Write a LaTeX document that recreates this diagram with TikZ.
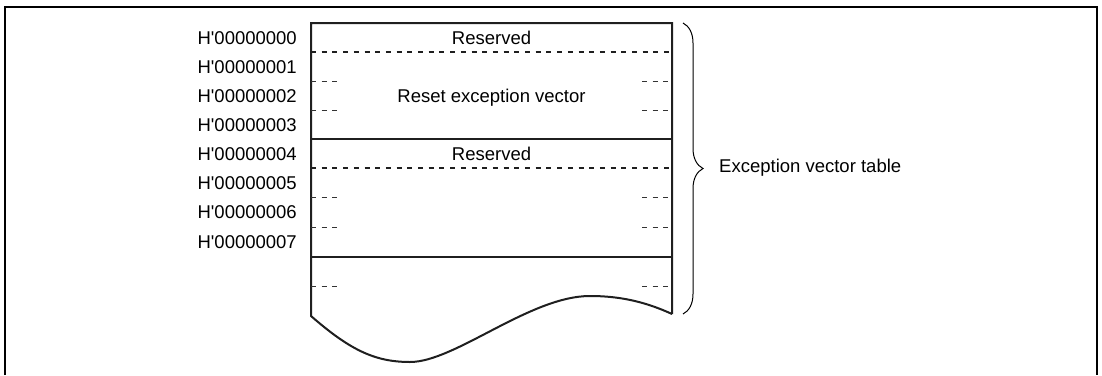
\documentclass[tikz,border=0pt]{standalone}
\usepackage{fontspec}
\setmainfont{Liberation Sans}
\usepackage{tikz}
\usetikzlibrary{decorations.pathreplacing}
\tikzset{
  lbl/.style={inner sep=0pt, text height=13.3pt, text depth=0pt, font=\fontsize{18.5}{22}\selectfont},
  addr/.style={lbl, anchor=east},
  frame/.style={line width=2.2pt},
  mem/.style={line width=2pt, draw=black!88, line join=miter},
  cut/.style={line width=2.2pt, draw=black!88, dash pattern=on 5pt off 5.7pt},
  tick/.style={line width=1pt, draw=black!80, dash pattern=on 5pt off 5.7pt}
}
\newcommand{\hx}{H\textquotesingle}

\begin{document}
\begin{tikzpicture}[x=1pt,y=-1pt]
\useasboundingbox (0,0) rectangle (1102,375);
\draw[frame] (5,375) -- (5,7) -- (1097,7) -- (1097,375);

\node[addr] (H0) at (297,37.5) {\hx00000000};
\node[addr] (H1) at (297,66.7) {\hx00000001};
\node[addr] (H2) at (297,96)   {\hx00000002};
\node[addr] (H3) at (297,125)  {\hx00000003};
\node[addr] (H4) at (297,154)  {\hx00000004};
\node[addr] (H5) at (297,183)  {\hx00000005};
\node[addr] (H6) at (297,212)  {\hx00000006};
\node[addr] (H7) at (297,241.5) {\hx00000007};

% memory block
\draw[mem] (672,314) -- (672,23) -- (311,23) -- (311,316)
  .. controls (350,350) and (375,362) .. (410,362)
  .. controls (455,362) and (530,296) .. (590,296)
  .. controls (625,296) and (650,304) .. (672,314);
\draw[mem] (311,139) -- (672,139);
\draw[mem] (311,257) -- (672,257);
\draw[cut] (311,52) -- (672,52);
\draw[cut] (311,168) -- (672,168);

\draw[tick] (311,81) -- (338,81);   \draw[tick] (642,81) -- (672,81);
\draw[tick] (311,110) -- (338,110); \draw[tick] (642,110) -- (672,110);
\draw[tick] (311,197) -- (338,197); \draw[tick] (642,197) -- (672,197);
\draw[tick] (311,227) -- (338,227); \draw[tick] (642,227) -- (672,227);
\draw[tick] (311,286) -- (338,286); \draw[tick] (642,286) -- (672,286);

\node[lbl] (res1) at (491.5,37.5) {Reserved};
\node[lbl] (reset) at (491.5,96) {Reset exception vector};
\node[lbl] (res2) at (491.5,154) {Reserved};

% brace
\coordinate (tbl-top) at (683,23);
\coordinate (tbl-bot) at (683,314);
\draw[line width=1pt, decorate, decoration={brace, amplitude=20pt}] (tbl-top) -- (tbl-bot);
\node[lbl, anchor=west] (evt) at (719,165.5) {Exception vector table};
\end{tikzpicture}
\end{document}
